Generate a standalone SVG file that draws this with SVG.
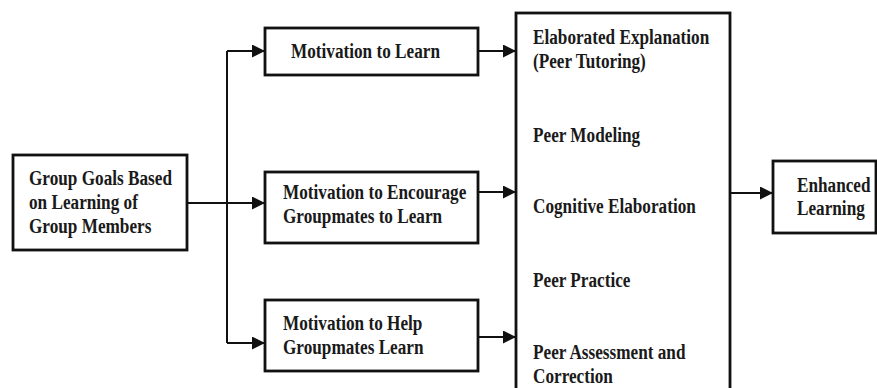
<svg xmlns="http://www.w3.org/2000/svg" width="877" height="388" viewBox="0 0 877 388">
<defs>
<marker id="ah" markerUnits="userSpaceOnUse" markerWidth="13" markerHeight="13" refX="13" refY="6.5" orient="auto">
<path d="M0,0 L13,6.5 L0,13 z" fill="#111"/>
</marker>
<style>
.box{fill:#fff;stroke:#111;stroke-width:2.8}
.ln{fill:none;stroke:#111;stroke-width:2}
.t{font-family:"Liberation Serif","Times New Roman",serif;font-weight:bold;font-size:17.2px;fill:#1a1a1a}
</style>
</defs>
<rect width="877" height="388" fill="#fff"/>
<g id="connectors">
<path class="ln" d="M227,51 V343"/>
<path class="ln" d="M187,203 H265" marker-end="url(#ah)"/>
<path class="ln" d="M227,51 H265" marker-end="url(#ah)"/>
<path class="ln" d="M227,343 H265" marker-end="url(#ah)"/>
<path class="ln" d="M478,51 H516" marker-end="url(#ah)"/>
<path class="ln" d="M478,192 H516" marker-end="url(#ah)"/>
<path class="ln" d="M478,337 H516" marker-end="url(#ah)"/>
<path class="ln" d="M730,193 H773" marker-end="url(#ah)"/>
</g>
<g id="goals">
<rect class="box" x="13" y="155" width="174" height="95"/>
<text class="t" transform="translate(29,185) scale(1,1.2)">Group Goals Based</text>
<text class="t" transform="translate(29,209) scale(1,1.2)">on Learning of</text>
<text class="t" transform="translate(29,233) scale(1,1.2)">Group Members</text>
</g>
<g id="mot-learn">
<rect class="box" x="265" y="28" width="213" height="47"/>
<text class="t" transform="translate(291,58) scale(1,1.2)">Motivation to Learn</text>
</g>
<g id="mot-encourage">
<rect class="box" x="265" y="172" width="213" height="71"/>
<text class="t" transform="translate(283,199) scale(1,1.2)">Motivation to Encourage</text>
<text class="t" transform="translate(283,223) scale(1,1.2)">Groupmates to Learn</text>
</g>
<g id="mot-help">
<rect class="box" x="265" y="300" width="213" height="71"/>
<text class="t" transform="translate(283,330) scale(1,1.2)">Motivation to Help</text>
<text class="t" transform="translate(283,354) scale(1,1.2)">Groupmates Learn</text>
</g>
<g id="processes">
<rect class="box" x="516" y="13" width="214" height="390"/>
<text class="t" transform="translate(533,44) scale(1,1.2)">Elaborated Explanation</text>
<text class="t" transform="translate(533,68) scale(1,1.2)">(Peer Tutoring)</text>
<text class="t" transform="translate(533,142) scale(1,1.2)">Peer Modeling</text>
<text class="t" transform="translate(533,213) scale(1,1.2)">Cognitive Elaboration</text>
<text class="t" transform="translate(533,287) scale(1,1.2)">Peer Practice</text>
<text class="t" transform="translate(533,359) scale(1,1.2)">Peer Assessment and</text>
<text class="t" transform="translate(533,383) scale(1,1.2)">Correction</text>
</g>
<g id="enhanced">
<rect class="box" x="773" y="161" width="103" height="72"/>
<text class="t" transform="translate(797,192) scale(1,1.2)">Enhanced</text>
<text class="t" transform="translate(797,215) scale(1,1.2)">Learning</text>
</g>
</svg>
